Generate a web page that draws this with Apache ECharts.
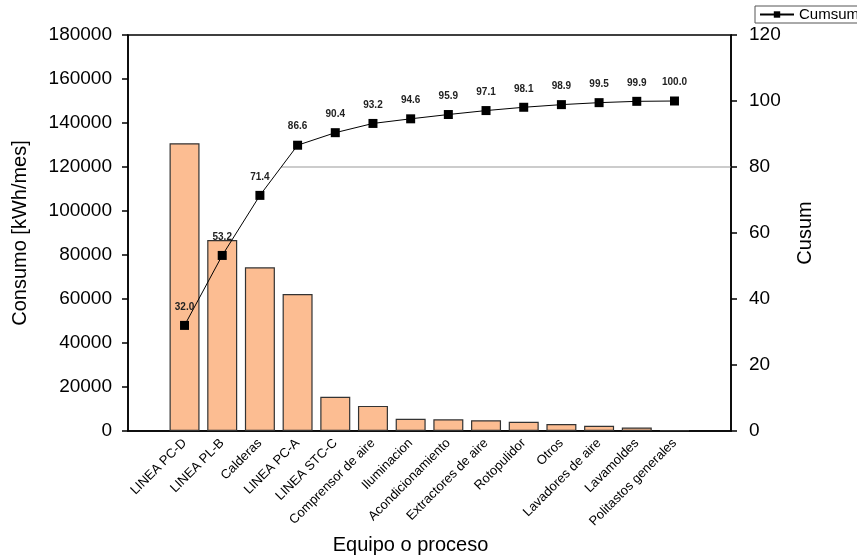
<!DOCTYPE html>
<html>
<head>
<meta charset="utf-8">
<script src="https://cdn.jsdelivr.net/npm/echarts@6/dist/echarts.min.js"></script>
<style>
  html, body { margin: 0; padding: 0; background: #fff; }
  #chart { width: 857px; height: 557px; }
</style>
</head>
<body>
<div id="chart"></div>
<script>
// categorias (con un hueco vacio a cada lado, como en el original)
var equipos = ['', 'LINEA PC-D', 'LINEA PL-B', 'Calderas', 'LINEA PC-A', 'LINEA STC-C', 'Comprensor de aire',
  'Iluminacion', 'Acondicionamiento', 'Extractores de aire', 'Rotopulidor', 'Otros',
  'Lavadores de aire', 'Lavamoldes', 'Politastos generales', ''];
var consumo = [null, 130800, 86800, 74400, 62300, 15600, 11400, 5600, 5300, 4900, 4200, 3200, 2400, 1600, 400, null];
var cusum = [null, 32.0, 53.2, 71.4, 86.6, 90.4, 93.2, 94.6, 95.9, 97.1, 98.1, 98.9, 99.5, 99.9, 100.0, null];
var leftTicks = [0, 180000, 20000];
var rightTicks = [0, 120, 20];
var limite = 80;

(function() {
  var myChart = echarts.init(document.getElementById('chart'));
  var font = 'Liberation Sans, Arial, sans-serif';

  // punto donde la curva cruza el 80 %
  var cruce = null;
  for (var i = 1; i < cusum.length; i++) {
    if (cusum[i - 1] != null && cusum[i] != null && cusum[i - 1] < limite && cusum[i] >= limite) {
      cruce = (i - 1) + (limite - cusum[i - 1]) / (cusum[i] - cusum[i - 1]);
    }
  }

  var option = {
    backgroundColor: '#fff',
    animation: false,
    textStyle: { fontFamily: font, color: '#000' },
    legend: {
      left: 755,
      top: 6,
      padding: [1, 4],
      itemGap: 0,
      itemWidth: 34,
      itemHeight: 8,
      borderColor: '#555',
      borderWidth: 1,
      data: ['Cumsum'],
      textStyle: { fontSize: 15, color: '#000', fontFamily: font }
    },
    grid: {
      left: 128, right: 126, top: 35, bottom: 126,
      outerBoundsMode: 'none',
      containLabel: false,
      show: true, borderColor: '#000', borderWidth: 1.5, backgroundColor: 'transparent'
    },
    xAxis: [{
      type: 'category',
      data: equipos,
      name: 'Equipo o proceso',
      nameLocation: 'middle',
      nameGap: 104,
      nameTextStyle: { fontSize: 20, color: '#000', padding: [0, 38, 0, 0] },
      axisLine: { lineStyle: { color: '#000', width: 1.5 } },
      axisTick: { alignWithLabel: true, length: 6, lineStyle: { color: '#000', width: 1.5 } },
      axisLabel: { interval: 0, rotate: 45, fontSize: 13, color: '#000', margin: 10 }
    }, {
      type: 'value',
      min: -0.5,
      max: equipos.length - 0.5,
      show: false
    }],
    yAxis: [{
      type: 'value',
      min: leftTicks[0], max: leftTicks[1], interval: leftTicks[2],
      name: 'Consumo [kWh/mes]',
      nameLocation: 'middle',
      nameGap: 98,
      nameTextStyle: { fontSize: 20, color: '#000' },
      axisLine: { show: true, onZero: false, lineStyle: { color: '#000', width: 1.5 } },
      axisTick: { show: true, length: 6, lineStyle: { color: '#000', width: 1.5 } },
      axisLabel: { fontSize: 19, color: '#000', margin: 16, formatter: function(v) { return String(v); } },
      splitLine: { show: false }
    }, {
      type: 'value',
      min: rightTicks[0], max: rightTicks[1], interval: rightTicks[2],
      position: 'right',
      name: 'Cusum',
      nameLocation: 'middle',
      nameGap: 64,
      nameTextStyle: { fontSize: 20, color: '#000' },
      axisLine: { show: true, onZero: false, lineStyle: { color: '#000', width: 1.5 } },
      axisTick: { show: true, length: 6, lineStyle: { color: '#000', width: 1.5 } },
      axisLabel: { fontSize: 19, color: '#000', margin: 18 },
      splitLine: { show: false }
    }],
    series: [{
      name: 'Consumo',
      type: 'bar',
      barWidth: 30,
      data: consumo,
      itemStyle: { color: '#fcbd92', borderColor: '#333', borderWidth: 1.2 }
    }, {
      name: 'Limite',
      type: 'line',
      xAxisIndex: 1,
      yAxisIndex: 1,
      data: [[cruce, limite], [equipos.length - 0.5, limite]],
      symbol: 'none',
      silent: true,
      lineStyle: { color: '#999', width: 1.2 },
      z: 1
    }, {
      name: 'Cumsum',
      type: 'line',
      yAxisIndex: 1,
      data: cusum,
      symbol: 'rect',
      symbolSize: 9,
      itemStyle: { color: '#000' },
      lineStyle: { color: '#000', width: 1 },
      label: {
        show: true,
        position: 'top',
        distance: 9,
        fontSize: 10,
        fontWeight: 'bold',
        color: '#222',
        formatter: function(p) { return p.value == null ? '' : Number(p.value).toFixed(1); }
      },
      z: 5
    }]
  };
  myChart.setOption(option);
})();
</script>
</body>
</html>
